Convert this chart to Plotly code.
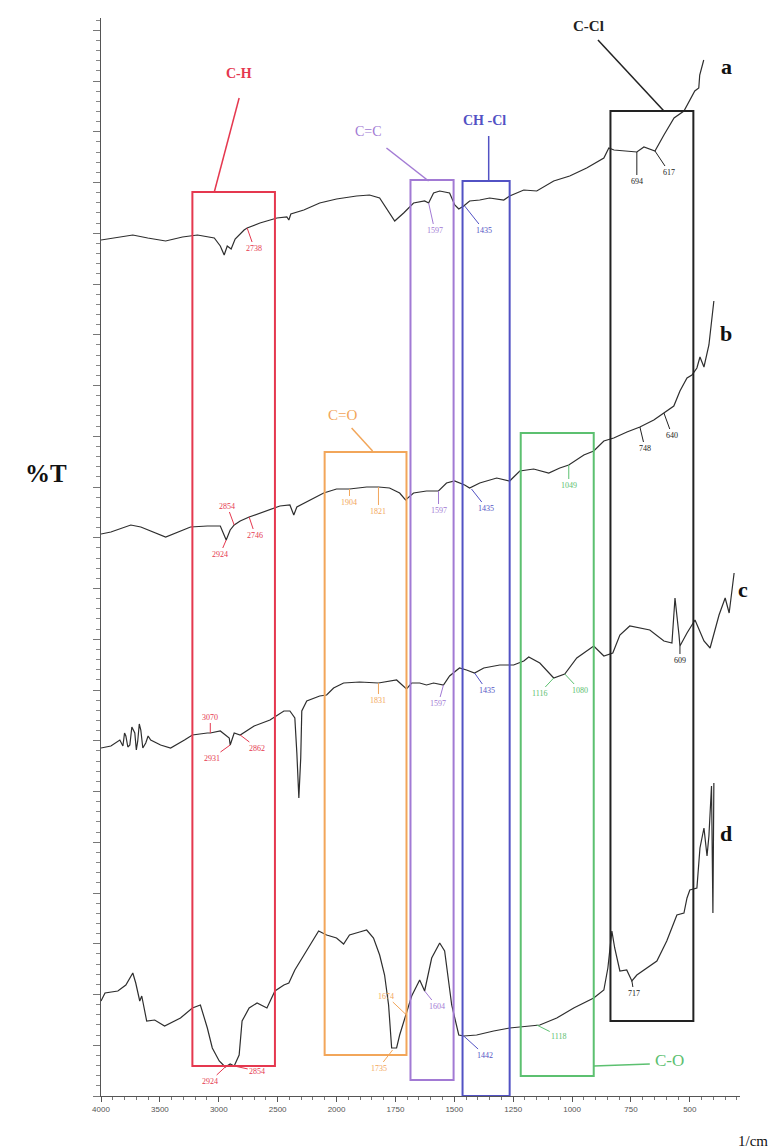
import plotly.graph_objects as go

# ---------------- data (wavenumber in 1/cm, %T with vertical offsets) ----------------
a_wn = [4000,3857,3730,3603,3451,3308,3181,3038,2987,2954,2928,2895,2861,2785,2759,2650,2506,2422,2405,2388,2278,2143,2000,1915,1860,1817,1779,1753,1715,1673,1626,1609,1588,1562,1520,1498,1481,1460,1435,1392,1350,1290,1265,1205,1150,1078,1010,938,865,844,822,768,725,695,648,610,567,525,500,479,462,458,441]
a_t = [85.6,85.9,86.1,85.8,85.5,85.9,86.1,85.8,85.0,84.1,85.0,84.7,85.7,86.6,86.8,87.3,87.8,87.9,87.6,88.2,88.6,89.3,89.7,90.0,90.1,89.8,88.5,87.5,88.3,89.3,89.5,89.3,90.3,90.5,90.3,89.1,88.7,89.0,89.5,89.6,89.8,89.6,90.0,90.6,90.5,91.5,92.0,92.8,93.8,94.8,94.6,94.5,94.4,94.9,94.5,96.1,97.8,98.5,99.6,100.5,100.8,102.1,103.6]

b_wn = [4000,3916,3747,3662,3451,3240,3097,2987,2937,2903,2869,2818,2742,2650,2481,2396,2363,2337,2228,2109,2000,1945,1872,1822,1775,1732,1707,1673,1618,1567,1533,1499,1456,1435,1392,1320,1265,1222,1163,1099,1052,1014,950,908,865,823,767,712,653,610,568,542,512,491,470,457,440,419,398]
b_t = [56.2,56.4,57.1,56.9,55.9,56.9,57.0,57.0,55.6,56.6,57.1,57.5,57.9,58.3,59.0,59.1,58.1,58.9,59.6,60.3,60.7,60.7,60.9,60.9,60.8,60.3,59.6,60.3,60.5,60.5,61.3,61.5,61.1,60.8,61.3,61.8,61.5,62.5,62.7,62.3,62.8,63.1,64.1,64.5,65.5,65.8,66.4,66.9,67.6,68.3,69.0,70.5,71.8,72.1,72.8,73.9,72.9,75.1,79.5]

c_wn = [4000,3916,3840,3814,3800,3789,3772,3755,3738,3713,3700,3688,3675,3662,3645,3620,3600,3578,3494,3409,3291,3224,3097,3072,2987,2911,2903,2869,2818,2700,2565,2523,2447,2396,2354,2337,2320,2304,2295,2253,2143,2084,2025,1970,1902,1822,1745,1703,1681,1647,1618,1588,1546,1520,1478,1448,1414,1375,1307,1248,1205,1184,1137,1078,1031,980,908,865,827,797,755,670,610,576,563,546,542,512,478,440,414,376,350,333,312]
c_t = [34.8,35.0,35.6,35.0,36.3,36.0,34.9,35.1,36.9,36.3,34.6,35.5,37.2,36.6,34.8,35.3,36.0,35.6,35.1,34.8,35.6,36.1,36.3,36.3,36.5,35.8,35.1,36.3,36.1,37.0,37.6,37.9,38.5,38.5,37.8,34.3,29.8,33.8,38.5,39.5,40.0,40.1,40.8,41.3,41.4,41.3,41.6,40.7,41.3,41.3,41.1,41.3,41.1,42.0,42.8,42.6,42.3,42.8,43.1,43.1,43.5,43.9,43.3,41.8,42.2,43.8,45.0,44.0,44.3,46.1,47.0,46.6,45.5,45.3,49.8,46.1,45.0,46.3,47.6,45.5,44.8,48.1,49.8,48.3,52.3]

d_wn = [4000,3966,3857,3789,3730,3705,3671,3654,3612,3544,3460,3325,3224,3156,3097,3055,2996,2945,2903,2869,2827,2802,2742,2675,2591,2523,2447,2405,2354,2253,2152,2084,2000,1970,1945,1902,1872,1843,1817,1796,1779,1766,1745,1732,1711,1681,1647,1626,1596,1562,1541,1511,1481,1460,1405,1333,1265,1193,1137,1065,993,908,865,848,831,819,797,768,746,725,683,640,598,555,525,512,500,470,457,440,427,419,408,402,398]
d_t = [9.5,10.3,10.5,11.1,12.3,11.3,9.5,10.0,7.5,7.6,7.0,7.8,8.8,9.1,6.8,4.8,3.5,2.9,3.2,3.0,4.1,7.5,8.8,9.3,8.8,10.5,11.1,11.3,12.6,14.5,16.5,16.1,15.8,15.2,16.1,16.4,16.6,15.8,14.1,12.1,9.1,4.8,4.8,6.1,7.8,10.0,11.6,10.5,13.8,15.3,14.5,9.1,6.1,6.0,6.1,6.5,6.8,7.0,7.1,7.8,8.8,9.8,10.6,12.8,16.5,14.8,12.5,12.6,11.5,12.1,12.8,13.5,15.5,18.1,18.3,19.8,20.6,20.8,24.8,26.8,24.0,26.0,31.0,18.3,31.3]

x_tick_labels = [4000, 3500, 3000, 2500, 2000, 1750, 1500, 1250, 1000, 750, 500]

# peak labels: text, wavenumber at the marker, %T at the marker, group colour
peak_text = ["2738","1597","1435","694","617",
             "2924","2854","2746","1904","1821","1597","1435","1049","748","640",
             "3070","2931","2862","1831","1597","1435","1116","1080","609",
             "2924","2854","1735","1674","1604","1442","1118","717"]
peak_wn = [2759,1609,1456,725,648,
           2937,2869,2742,1945,1822,1567,1427,1014,712,610,
           3072,2903,2818,1822,1546,1414,1078,1031,542,
           2945,2869,1762,1703,1626,1460,1150,746]
peak_t = [86.8,89.3,89.0,94.4,94.5,
          55.6,57.1,57.9,60.7,60.9,60.5,60.7,63.1,66.9,68.3,
          36.3,35.1,36.1,41.3,41.1,42.3,41.8,42.2,45.0,
          2.9,3.0,4.6,8.1,10.5,6.0,7.1,11.5]
peak_group = ["CH","CC","CHCl","CCl","CCl",
              "CH","CH","CH","CO_","CO_","CC","CHCl","C_O","CCl","CCl",
              "CH","CH","CH","CO_","CC","CHCl","C_O","C_O","CCl",
              "CH","CH","CO_","CO_","CC","CHCl","C_O","CCl"]

# band boxes: label, wavenumber span, %T span
box_names = ["C-H", "C=O", "C=C", "CH -Cl", "C-O", "C-Cl"]
box_group = ["CH", "CO_", "CC", "CHCl", "C_O", "CCl"]
box_wn_hi = [3224, 2101, 1686, 1465, 1218, 837]
box_wn_lo = [2523, 1703, 1503, 1265, 908, 485]
box_t_top = [90.4, 64.4, 91.6, 91.5, 66.3, 98.5]
box_t_bot = [3.0, 4.1, 1.6, 0.0, 2.0, 7.5]

# ---------------- styling ----------------
COL = {"CH": "#e5384f", "CO_": "#f2a65a", "CC": "#a27ad4", "CHCl": "#5252c4",
       "C_O": "#5cc070", "CCl": "#222222"}
SERIF = "Liberation Serif, Times New Roman, serif"


def to_axis(w):
    # the instrument's abscissa is compressed by 2x above 2000 1/cm
    return w if w <= 2000 else 2000 + (w - 2000) / 2


def conv(ws):
    return [to_axis(w) for w in ws]


fig = go.Figure()
for wn, t in [(a_wn, a_t), (b_wn, b_t), (c_wn, c_t), (d_wn, d_t)]:
    fig.add_trace(go.Scatter(x=conv(wn), y=t, mode="lines",
                             line=dict(color="#2e2e2e", width=1.2),
                             showlegend=False, hoverinfo="skip"))

for i in range(len(box_names)):
    fig.add_shape(type="rect", x0=to_axis(box_wn_hi[i]), x1=to_axis(box_wn_lo[i]),
                  y0=box_t_bot[i], y1=box_t_top[i],
                  line=dict(color=COL[box_group[i]], width=2), layer="above")

# box call-out lines and labels (layout positions)
callouts = {
    "C-H":    dict(line=(2827, 99.8, 3038, 90.4), lab=(2827, 102.3), bold=True, size=14),
    "C=O":    dict(line=(1936, 66.8, 1847, 64.5), lab=(1975, 68.1), bold=False, size=15),
    "C=C":    dict(line=(1788, 94.8, 1609, 91.5), lab=(1864, 96.5), bold=False, size=14),
    "CH -Cl": dict(line=(1354, 96.0, 1354, 91.5), lab=(1371, 97.6), bold=True, size=14),
    "C-O":    dict(line=(908, 3.0, 670, 3.2), lab=(585, 3.6), bold=False, size=17),
    "C-Cl":   dict(line=(890, 105.6, 610, 98.5), lab=(930, 107.0), bold=True, size=15),
}
for i, name in enumerate(box_names):
    c = callouts[name]
    col = COL[box_group[i]]
    x0, y0, x1, y1 = c["line"]
    fig.add_shape(type="line", x0=to_axis(x0), y0=y0, x1=to_axis(x1), y1=y1,
                  line=dict(color=col, width=1.5))
    txt = f"<b>{name}</b>" if c["bold"] else name
    fig.add_annotation(x=to_axis(c["lab"][0]), y=c["lab"][1], text=txt, showarrow=False,
                       xanchor="center", yanchor="middle",
                       font=dict(family=SERIF, size=c["size"], color=col))

# peak label offsets (pixels from marker to label)
peak_offsets = [(7, 20), (6, 27), (19, 24), (0, 29), (14, 21),
                (-6, 14), (-7, -19), (6, 18), (0, 13), (0, 24), (0, 19), (15, 19), (0, 20), (5, 21), (8, 22),
                (0, -16), (-18, 13), (17, 13), (0, 17), (-5, 18), (12, 17), (-14, 15), (15, 16), (0, 14),
                (-15, 14), (23, 5), (-14, 18), (-20, -19), (12, 15), (21, 19), (22, 11), (2, 12)]
for i, txt in enumerate(peak_text):
    col = COL[peak_group[i]]
    ax, ay = peak_offsets[i]
    fig.add_annotation(x=to_axis(peak_wn[i]), y=peak_t[i], text=txt, showarrow=True,
                       arrowhead=0, arrowwidth=1, arrowcolor=col, ax=ax, ay=ay,
                       font=dict(family=SERIF, size=8, color=col))

# spectrum letters and axis titles (paper coordinates, explicit centre anchoring)
def paper_text(px, py, text, size):
    fig.add_annotation(xref="paper", yref="paper", x=(px - 93) / 639, y=(1088 - py) / 1078,
                       text=text, showarrow=False, xanchor="center", yanchor="middle",
                       font=dict(family=SERIF, size=size, color="#111"))


for letter, px, py in [("a", 718, 58), ("b", 718, 325), ("c", 735, 582), ("d", 718, 825)]:
    paper_text(px, py, f"<b>{letter}</b>", 22)
paper_text(38, 465, "<b>%T</b>", 25)
paper_text(745, 1133, "1/cm", 15)

minor_vals = [v for v in range(300, 3001, 50)]
fig.update_xaxes(range=[3000, 287], showgrid=False, zeroline=False,
                 showline=True, linecolor="#555", linewidth=1,
                 tickmode="array", tickvals=conv(x_tick_labels),
                 ticktext=[str(v) for v in x_tick_labels],
                 ticks="outside", ticklen=5, tickcolor="#555",
                 tickfont=dict(family="Liberation Sans Narrow, Arial Narrow, sans-serif", size=8, color="#555"),
                 minor=dict(tickmode="array", tickvals=minor_vals, ticks="outside", ticklen=3, tickcolor="#777"))
fig.update_yaxes(range=[0, 107.8], showgrid=False, zeroline=False,
                 showline=True, linecolor="#555", linewidth=1,
                 tick0=0, dtick=5.075, ticks="outside", ticklen=7, tickcolor="#777",
                 showticklabels=False,
                 minor=dict(tick0=0, dtick=1.015, ticks="outside", ticklen=4, tickcolor="#888"))
fig.update_layout(width=776, height=1147, margin=dict(l=93, r=44, t=10, b=59),
                  plot_bgcolor="white", paper_bgcolor="white")

fig.write_html("out.html")
